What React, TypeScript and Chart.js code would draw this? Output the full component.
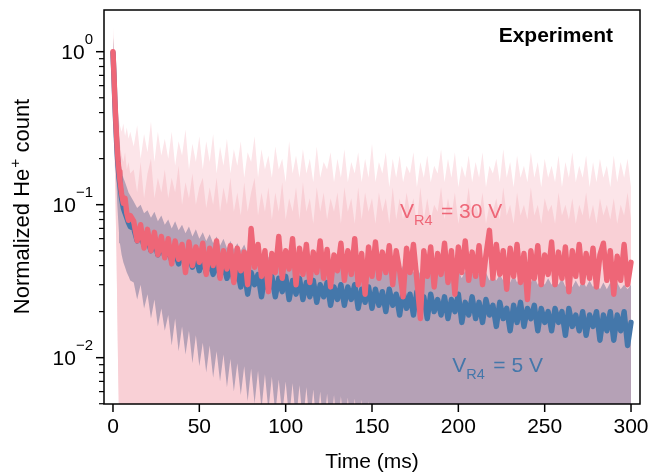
import React, { useEffect, useRef } from "react";
import { Chart, registerables } from "chart.js";

Chart.register(...registerables);

// ---- data ----
const TIME = [
  0, 0.5, 1, 1.5, 2, 2.5, 3, 3.5, 4, 5, 6, 7, 8, 9, 10,
  12, 14, 16, 18, 20, 22, 24, 26, 28, 30,
  32, 34, 36, 38, 40, 42, 44, 46, 48, 50,
  52, 54, 56, 58, 60, 62, 64, 66, 68, 70,
  72, 74, 76, 78, 80, 82, 84, 86, 88, 90,
  92, 94, 96, 98, 100, 102, 104, 106, 108, 110,
  112, 114, 116, 118, 120, 122, 124, 126, 128, 130,
  132, 134, 136, 138, 140, 142, 144, 146, 148, 150,
  152, 154, 156, 158, 160, 162, 164, 166, 168, 170,
  172, 174, 176, 178, 180, 182, 184, 186, 188, 190,
  192, 194, 196, 198, 200, 202, 204, 206, 208, 210,
  212, 214, 216, 218, 220, 222, 224, 226, 228, 230,
  232, 234, 236, 238, 240, 242, 244, 246, 248, 250,
  252, 254, 256, 258, 260, 262, 264, 266, 268, 270,
  272, 274, 276, 278, 280, 282, 284, 286, 288, 290,
  292, 294, 296, 298, 300,
];

// V_R4 = 30 V (mean)
const RED = [
  1.0, 0.74, 0.52, 0.38, 0.29, 0.23, 0.19, 0.165, 0.145, 0.118, 0.102, 0.11, 0.088, 0.079, 0.085,
  0.078, 0.058, 0.074, 0.052, 0.069, 0.05, 0.066, 0.047, 0.062, 0.045,
  0.06, 0.041, 0.058, 0.044, 0.055, 0.036, 0.057, 0.04, 0.053, 0.042,
  0.056, 0.035, 0.052, 0.04, 0.058, 0.033, 0.05, 0.038, 0.054, 0.031,
  0.052, 0.037, 0.049, 0.03, 0.07, 0.039, 0.055, 0.034, 0.05, 0.027,
  0.048, 0.036, 0.062, 0.033, 0.05, 0.038, 0.06, 0.03, 0.052, 0.035,
  0.055, 0.031, 0.049, 0.036, 0.058, 0.033, 0.051, 0.029, 0.047, 0.037,
  0.056, 0.032, 0.05, 0.035, 0.06, 0.03, 0.048, 0.026, 0.053, 0.034,
  0.057, 0.033, 0.049, 0.036, 0.054, 0.03, 0.05, 0.037, 0.025, 0.052,
  0.036, 0.055, 0.032, 0.018, 0.05, 0.034, 0.053, 0.029, 0.048, 0.035,
  0.056, 0.031, 0.05, 0.026, 0.053, 0.036, 0.058, 0.032, 0.049, 0.034,
  0.054, 0.03, 0.047, 0.068, 0.033, 0.055, 0.035, 0.05, 0.028, 0.052,
  0.034, 0.055, 0.031, 0.048, 0.024, 0.05, 0.033, 0.054, 0.03, 0.047,
  0.035, 0.057, 0.03, 0.049, 0.033, 0.053, 0.027, 0.05, 0.034, 0.055,
  0.031, 0.048, 0.033, 0.052, 0.029, 0.047, 0.056, 0.032, 0.05, 0.026,
  0.046, 0.032, 0.055, 0.03, 0.042,
];

// V_R4 = 5 V (mean)
const BLUE = [
  0.98, 0.72, 0.5, 0.36, 0.27, 0.21, 0.175, 0.15, 0.135, 0.11, 0.095, 0.088, 0.082, 0.076, 0.072,
  0.07, 0.058, 0.064, 0.054, 0.06, 0.05, 0.058, 0.047, 0.055, 0.046,
  0.052, 0.043, 0.05, 0.041, 0.049, 0.04, 0.047, 0.039, 0.046, 0.037,
  0.045, 0.036, 0.044, 0.035, 0.043, 0.034, 0.042, 0.033, 0.041, 0.032,
  0.038, 0.029, 0.037, 0.026, 0.036, 0.03, 0.035, 0.025, 0.034, 0.028,
  0.034, 0.025, 0.033, 0.027, 0.034, 0.024, 0.032, 0.026, 0.033, 0.024,
  0.031, 0.025, 0.032, 0.023, 0.03, 0.025, 0.031, 0.022, 0.029, 0.024,
  0.03, 0.022, 0.029, 0.024, 0.03, 0.021, 0.028, 0.023, 0.029, 0.021,
  0.028, 0.022, 0.027, 0.02, 0.028, 0.022, 0.026, 0.019, 0.027, 0.021,
  0.026, 0.019, 0.027, 0.021, 0.025, 0.018, 0.026, 0.02, 0.024, 0.019,
  0.025, 0.018, 0.024, 0.02, 0.026, 0.017, 0.023, 0.019, 0.025, 0.018,
  0.023, 0.017, 0.024, 0.019, 0.022, 0.016, 0.023, 0.018, 0.021, 0.015,
  0.022, 0.017, 0.023, 0.016, 0.021, 0.018, 0.022, 0.015, 0.021, 0.017,
  0.02, 0.015, 0.021, 0.017, 0.02, 0.014, 0.021, 0.016, 0.019, 0.015,
  0.02, 0.014, 0.019, 0.016, 0.02, 0.013, 0.019, 0.015, 0.02, 0.013,
  0.019, 0.015, 0.02, 0.012, 0.017,
];

// faint outer spikes of the V_R4 = 30 V spread
const RED_SPIKE = [
  1.45, 1.1, 0.85, 0.66, 0.55, 0.46, 0.4, 0.36, 0.33, 0.3, 0.34, 0.28, 0.32, 0.27, 0.3,
  0.24, 0.33, 0.2, 0.29, 0.22, 0.35, 0.19, 0.3, 0.21, 0.27,
  0.2, 0.3, 0.18, 0.26, 0.21, 0.31, 0.17, 0.25, 0.19, 0.28,
  0.17, 0.26, 0.19, 0.29, 0.16, 0.24, 0.18, 0.27, 0.16, 0.23,
  0.18, 0.26, 0.15, 0.22, 0.19, 0.28, 0.15, 0.23, 0.17, 0.21,
  0.15, 0.24, 0.17, 0.2, 0.14, 0.26, 0.16, 0.21, 0.15, 0.23,
  0.16, 0.2, 0.14, 0.24, 0.15, 0.19, 0.17, 0.22, 0.14, 0.2,
  0.15, 0.23, 0.14, 0.19, 0.16, 0.22, 0.14, 0.2, 0.15, 0.25,
  0.14, 0.19, 0.16, 0.22, 0.13, 0.2, 0.15, 0.21, 0.14, 0.18,
  0.16, 0.22, 0.13, 0.19, 0.15, 0.21, 0.14, 0.18, 0.16, 0.23,
  0.14, 0.2, 0.15, 0.22, 0.13, 0.18, 0.15, 0.21, 0.14, 0.19,
  0.15, 0.22, 0.13, 0.18, 0.16, 0.2, 0.14, 0.23, 0.15, 0.19,
  0.13, 0.21, 0.15, 0.18, 0.14, 0.22, 0.15, 0.19, 0.13, 0.2,
  0.15, 0.18, 0.14, 0.21, 0.13, 0.19, 0.15, 0.22, 0.14, 0.18,
  0.15, 0.21, 0.13, 0.19, 0.14, 0.2, 0.15, 0.18, 0.13, 0.21,
  0.14, 0.19, 0.15, 0.2, 0.13,
];

// spread band of V_R4 = 30 V (upper / lower edge)
const RED_HI = [
  1.3, 0.98, 0.75, 0.58, 0.46, 0.38, 0.32, 0.28, 0.25, 0.21, 0.19, 0.22, 0.17, 0.19, 0.16,
  0.17, 0.12, 0.19, 0.11, 0.16, 0.2, 0.11, 0.15, 0.12, 0.17,
  0.11, 0.15, 0.12, 0.18, 0.1, 0.14, 0.11, 0.16, 0.1, 0.13,
  0.15, 0.095, 0.13, 0.1, 0.15, 0.09, 0.13, 0.1, 0.15, 0.09,
  0.12, 0.085, 0.14, 0.09, 0.12, 0.15, 0.085, 0.12, 0.09, 0.13,
  0.08, 0.12, 0.09, 0.14, 0.08, 0.11, 0.09, 0.13, 0.08, 0.14,
  0.09, 0.11, 0.075, 0.13, 0.09, 0.12, 0.08, 0.11, 0.09, 0.12,
  0.075, 0.13, 0.09, 0.11, 0.075, 0.13, 0.08, 0.12, 0.09, 0.11,
  0.075, 0.12, 0.09, 0.11, 0.075, 0.13, 0.08, 0.11, 0.08, 0.12,
  0.09, 0.11, 0.075, 0.13, 0.08, 0.11, 0.08, 0.1, 0.09, 0.13,
  0.08, 0.11, 0.085, 0.12, 0.075, 0.1, 0.09, 0.13, 0.08, 0.1,
  0.085, 0.12, 0.075, 0.1, 0.09, 0.11, 0.08, 0.13, 0.085, 0.1,
  0.075, 0.12, 0.085, 0.1, 0.08, 0.13, 0.085, 0.1, 0.075, 0.11,
  0.09, 0.1, 0.075, 0.12, 0.085, 0.1, 0.08, 0.11, 0.075, 0.1,
  0.085, 0.12, 0.08, 0.1, 0.075, 0.11, 0.085, 0.1, 0.08, 0.11,
  0.075, 0.1, 0.085, 0.12, 0.08,
];
const RED_LO = [
  0.62, 0.36, 0.2, 0.1, 0.05, 0.02, 0.008, 0.004, 0.002, 0.002, 0.002, 0.002, 0.002, 0.002, 0.002,
  0.002, 0.002, 0.002, 0.002, 0.002, 0.002, 0.002, 0.002, 0.002, 0.002,
  0.002, 0.002, 0.002, 0.002, 0.002, 0.002, 0.002, 0.002, 0.002, 0.002,
  0.002, 0.002, 0.002, 0.002, 0.002, 0.002, 0.002, 0.002, 0.002, 0.002,
  0.002, 0.002, 0.002, 0.002, 0.002, 0.002, 0.002, 0.002, 0.002, 0.002,
  0.002, 0.002, 0.002, 0.002, 0.002, 0.002, 0.002, 0.002, 0.002, 0.002,
  0.002, 0.002, 0.002, 0.002, 0.002, 0.002, 0.002, 0.002, 0.002, 0.002,
  0.002, 0.002, 0.002, 0.002, 0.002, 0.002, 0.002, 0.002, 0.002, 0.002,
  0.002, 0.002, 0.002, 0.002, 0.002, 0.002, 0.002, 0.002, 0.002, 0.002,
  0.002, 0.002, 0.002, 0.002, 0.002, 0.002, 0.002, 0.002, 0.002, 0.002,
  0.002, 0.002, 0.002, 0.002, 0.002, 0.002, 0.002, 0.002, 0.002, 0.002,
  0.002, 0.002, 0.002, 0.002, 0.002, 0.002, 0.002, 0.002, 0.002, 0.002,
  0.002, 0.002, 0.002, 0.002, 0.002, 0.002, 0.002, 0.002, 0.002, 0.002,
  0.002, 0.002, 0.002, 0.002, 0.002, 0.002, 0.002, 0.002, 0.002, 0.002,
  0.002, 0.002, 0.002, 0.002, 0.002, 0.002, 0.002, 0.002, 0.002, 0.002,
  0.002, 0.002, 0.002, 0.002, 0.002,
];

// spread band of V_R4 = 5 V (upper / lower edge)
const BLUE_HI = [
  1.25, 0.9, 0.66, 0.5, 0.39, 0.32, 0.27, 0.23, 0.2, 0.17, 0.15, 0.14, 0.13, 0.12, 0.115,
  0.105, 0.095, 0.1, 0.088, 0.092, 0.082, 0.09, 0.078, 0.085, 0.074,
  0.08, 0.07, 0.078, 0.068, 0.074, 0.065, 0.072, 0.062, 0.069, 0.06,
  0.066, 0.058, 0.064, 0.056, 0.062, 0.054, 0.06, 0.052, 0.058, 0.051,
  0.056, 0.05, 0.055, 0.048, 0.053, 0.047, 0.052, 0.046, 0.051, 0.045,
  0.05, 0.044, 0.049, 0.043, 0.048, 0.042, 0.047, 0.042, 0.046, 0.041,
  0.046, 0.041, 0.045, 0.04, 0.045, 0.04, 0.044, 0.039, 0.044, 0.039,
  0.043, 0.039, 0.043, 0.038, 0.043, 0.038, 0.042, 0.038, 0.042, 0.037,
  0.042, 0.038, 0.041, 0.037, 0.041, 0.037, 0.04, 0.036, 0.04, 0.036,
  0.039, 0.036, 0.039, 0.035, 0.039, 0.035, 0.038, 0.035, 0.038, 0.034,
  0.038, 0.034, 0.037, 0.034, 0.037, 0.033, 0.037, 0.033, 0.036, 0.033,
  0.036, 0.033, 0.036, 0.032, 0.035, 0.032, 0.035, 0.032, 0.035, 0.031,
  0.035, 0.031, 0.034, 0.031, 0.034, 0.031, 0.034, 0.03, 0.033, 0.03,
  0.033, 0.03, 0.033, 0.03, 0.033, 0.029, 0.032, 0.029, 0.032, 0.029,
  0.032, 0.029, 0.032, 0.029, 0.031, 0.028, 0.031, 0.028, 0.031, 0.028,
  0.031, 0.028, 0.03, 0.028, 0.03,
];
const BLUE_LO = [
  0.7, 0.45, 0.3, 0.2, 0.14, 0.1, 0.08, 0.065, 0.056, 0.047, 0.042, 0.039, 0.036, 0.034, 0.032,
  0.031, 0.024, 0.03, 0.021, 0.026, 0.018, 0.024, 0.016, 0.021, 0.015,
  0.019, 0.012, 0.018, 0.011, 0.016, 0.0105, 0.015, 0.0092, 0.014, 0.0088,
  0.0125, 0.008, 0.012, 0.0074, 0.011, 0.007, 0.0105, 0.0064, 0.0098, 0.006,
  0.0092, 0.0057, 0.0088, 0.0052, 0.0085, 0.005, 0.0082, 0.0046, 0.0078, 0.0045,
  0.0075, 0.0043, 0.0072, 0.0042, 0.007, 0.004, 0.0068, 0.0038, 0.0066, 0.0037,
  0.0064, 0.0036, 0.0062, 0.0035, 0.006, 0.0034, 0.0058, 0.0033, 0.0057, 0.0032,
  0.0056, 0.0032, 0.0055, 0.0031, 0.0054, 0.0031, 0.0053, 0.003, 0.0052, 0.003,
  0.0051, 0.003, 0.005, 0.003, 0.0049, 0.003, 0.0048, 0.003, 0.0047, 0.003,
  0.003, 0.003, 0.003, 0.003, 0.003, 0.003, 0.003, 0.003, 0.003, 0.003,
  0.003, 0.003, 0.003, 0.003, 0.003, 0.003, 0.003, 0.003, 0.003, 0.003,
  0.003, 0.003, 0.003, 0.003, 0.003, 0.003, 0.003, 0.003, 0.003, 0.003,
  0.003, 0.003, 0.003, 0.003, 0.003, 0.003, 0.003, 0.003, 0.003, 0.003,
  0.003, 0.003, 0.003, 0.003, 0.003, 0.003, 0.003, 0.003, 0.003, 0.003,
  0.003, 0.003, 0.003, 0.003, 0.003, 0.003, 0.003, 0.003, 0.003, 0.003,
  0.003, 0.003, 0.003, 0.003, 0.003,
];

const X_TICKS = [0, 50, 100, 150, 200, 250, 300];
const Y_TICKS = [1, 0.1, 0.01];
const Y_TICK_EXP = ["0", "\u22121", "\u22122"];
const Y_MINOR = [
  0.005, 0.006, 0.007, 0.008, 0.009,
  0.02, 0.03, 0.04, 0.05, 0.06, 0.07, 0.08, 0.09,
  0.2, 0.3, 0.4, 0.5, 0.6, 0.7, 0.8, 0.9,
];
const X_MIN = -5.2;
const X_MAX = 305.2;
const Y_MIN = 0.00498;
const Y_MAX = 1.873;

const X_TITLE = "Time (ms)";
const Y_TITLE_A = "Normalized He";
const Y_TITLE_SUP = "+";
const Y_TITLE_B = " count";
const PANEL_TAG = "Experiment";
const LABEL_30 = { t: 166.2, v: 0.082, sub: "R4", rest: "= 30 V" };
const LABEL_5 = { t: 196.5, v: 0.0081, sub: "R4", rest: "= 5 V" };

const RED_C = "#ee6677";
const BLUE_C = "#4477aa";
const PINK_C = "#f9d0d6";
const HAZE_C = "#fce5e9";
const PURPLE_C = "#b5a1b6";
const FONT = "'Liberation Sans', Arial, Helvetica, sans-serif";

const pts = (ys: number[]) => TIME.map((t, i) => ({ x: t, y: ys[i] }));

const axesPlugin = {
  id: "mplAxes",
  afterDraw(chart: any) {
    const { ctx, chartArea: a, scales } = chart;
    const xs = scales.x;
    const ys = scales.y;
    ctx.save();
    ctx.fillStyle = "#000";
    ctx.strokeStyle = "#000";

    // annotations
    const drawV = (lab: any, color: string) => {
      const px = xs.getPixelForValue(lab.t);
      const py = ys.getPixelForValue(lab.v);
      ctx.fillStyle = color;
      ctx.textAlign = "left";
      ctx.textBaseline = "alphabetic";
      ctx.font = `21px ${FONT}`;
      ctx.fillText("V", px, py);
      const w1 = ctx.measureText("V").width;
      ctx.font = `14.5px ${FONT}`;
      ctx.fillText(lab.sub, px + w1, py + 7.5);
      const w2 = ctx.measureText(lab.sub).width;
      ctx.font = `21px ${FONT}`;
      ctx.fillText(lab.rest, px + w1 + w2 + 8.5, py);
    };
    drawV(LABEL_30, RED_C);
    drawV(LABEL_5, BLUE_C);

    ctx.fillStyle = "#000";
    // panel tag
    ctx.font = `bold 21px ${FONT}`;
    ctx.textAlign = "right";
    ctx.textBaseline = "alphabetic";
    ctx.fillText(PANEL_TAG, a.right - 27, a.top + 32);

    // frame
    ctx.lineWidth = 1.5;
    ctx.strokeRect(a.left, a.top, a.right - a.left, a.bottom - a.top);

    // x ticks
    ctx.lineWidth = 1.5;
    ctx.font = `21px ${FONT}`;
    ctx.textAlign = "center";
    for (const v of X_TICKS) {
      const px = xs.getPixelForValue(v);
      ctx.beginPath();
      ctx.moveTo(px, a.bottom);
      ctx.lineTo(px, a.bottom + 8);
      ctx.stroke();
      ctx.fillText(String(v), px, a.bottom + 29);
    }
    // x title
    ctx.fillText(X_TITLE, (a.left + a.right) / 2, a.bottom + 64);

    // y minor ticks
    ctx.lineWidth = 1.2;
    for (const v of Y_MINOR) {
      const py = ys.getPixelForValue(v);
      if (py < a.top - 0.5 || py > a.bottom + 0.5) continue;
      ctx.beginPath();
      ctx.moveTo(a.left, py);
      ctx.lineTo(a.left - 5, py);
      ctx.stroke();
    }
    // y major ticks + labels
    ctx.lineWidth = 1.5;
    Y_TICKS.forEach((v, i) => {
      const py = ys.getPixelForValue(v);
      ctx.beginPath();
      ctx.moveTo(a.left, py);
      ctx.lineTo(a.left - 8, py);
      ctx.stroke();
      const right = a.left - 11;
      ctx.font = `15px ${FONT}`;
      const ws = ctx.measureText(Y_TICK_EXP[i]).width;
      ctx.textAlign = "left";
      ctx.fillText(Y_TICK_EXP[i], right - ws, py - 8);
      ctx.font = `21px ${FONT}`;
      ctx.textAlign = "right";
      ctx.fillText("10", right - ws, py + 7.5);
    });

    // y title (rotated)
    ctx.save();
    ctx.translate(a.left - 75, (a.top + a.bottom) / 2);
    ctx.rotate(-Math.PI / 2);
    ctx.textAlign = "left";
    ctx.font = `22px ${FONT}`;
    const wa = ctx.measureText(Y_TITLE_A).width;
    const wb = ctx.measureText(Y_TITLE_B).width;
    ctx.font = `15.5px ${FONT}`;
    const wsup = ctx.measureText(Y_TITLE_SUP).width;
    const x0 = -(wa + wsup + wb) / 2;
    ctx.font = `22px ${FONT}`;
    ctx.fillText(Y_TITLE_A, x0, 0);
    ctx.font = `15.5px ${FONT}`;
    ctx.fillText(Y_TITLE_SUP, x0 + wa + 1, -9);
    ctx.font = `22px ${FONT}`;
    ctx.fillText(Y_TITLE_B, x0 + wa + wsup + 1, 0);
    ctx.restore();

    ctx.restore();
  },
};

export default function App() {
  const ref = useRef<HTMLCanvasElement | null>(null);
  useEffect(() => {
    document.body.style.margin = "0";
    const canvas = ref.current;
    if (!canvas) return;
    const hidden = {
      borderWidth: 0,
      borderColor: "rgba(0,0,0,0)",
      pointRadius: 0,
      clip: 0,
    };
    const line = {
      borderWidth: 5.4,
      borderJoinStyle: "round",
      borderCapStyle: "round",
      pointRadius: 0,
      fill: false,
      clip: 0,
    };
    const chart = new Chart(canvas, {
      type: "line",
      data: {
        datasets: [
          { label: "V_R4 = 30 V", data: pts(RED), borderColor: RED_C, ...line, order: 1 },
          { label: "V_R4 = 5 V", data: pts(BLUE), borderColor: BLUE_C, ...line, order: 2 },
          { label: "5 V upper", data: pts(BLUE_HI), ...hidden, backgroundColor: PURPLE_C, fill: 3, order: 3 },
          { label: "5 V lower", data: pts(BLUE_LO), ...hidden, fill: false, order: 3 },
          { label: "30 V upper", data: pts(RED_HI), ...hidden, backgroundColor: PINK_C, fill: 5, order: 4 },
          { label: "30 V lower", data: pts(RED_LO), ...hidden, fill: false, order: 4 },
          { label: "30 V spikes", data: pts(RED_SPIKE), ...hidden, backgroundColor: HAZE_C, fill: 5, order: 5 },
        ],
      },
      options: {
        responsive: false,
        animation: false,
        devicePixelRatio: 1,
        layout: { padding: { left: 104, right: 10, top: 10, bottom: 71 } },
        plugins: {
          legend: { display: false },
          tooltip: { enabled: false },
        },
        elements: { line: { tension: 0 }, point: { radius: 0 } },
        scales: {
          x: { type: "linear", min: X_MIN, max: X_MAX, display: false },
          y: { type: "logarithmic", min: Y_MIN, max: Y_MAX, display: false },
        },
      } as any,
      plugins: [axesPlugin],
    } as any);
    return () => chart.destroy();
  }, []);
  return (
    <canvas
      ref={ref}
      width={650}
      height={475}
      style={{ display: "block", width: 650, height: 475 }}
    />
  );
}
